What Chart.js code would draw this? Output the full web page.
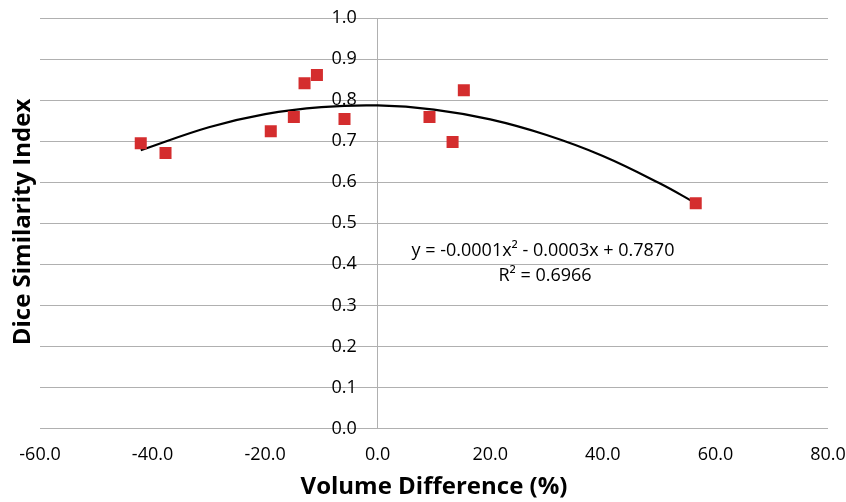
<!DOCTYPE html>
<html>
<head>
<meta charset="utf-8">
<script src="https://cdn.jsdelivr.net/npm/chart.js@4.4.1/dist/chart.umd.min.js"></script>
<style>
  body { margin: 0; background: #fff; }
  #wrap { width: 846px; height: 502px; }
</style>
</head>
<body>
<div id="wrap"><canvas id="myChart" width="846" height="502"></canvas></div>
<script>
// ====== Dice vs volume difference =========

// measured points (volume difference %, dice index)
const volDiff = [-42.1, -37.7, -19.0, -14.9, -13.0, -10.8, -5.9, 9.2, 13.3, 15.3, 56.5];
const diceIdx = [0.695, 0.671, 0.724, 0.759, 0.841, 0.861, 0.754, 0.759, 0.698, 0.824, 0.549];

// trendline
const trendX = [-42.1, -30, -20, -10, 0, 10, 20, 30, 40, 50, 56.5];
const trendY = [0.678, 0.734, 0.766, 0.783, 0.787, 0.777, 0.753, 0.715, 0.664, 0.598, 0.549];

const xTicks = [-60, -40, -20, 0, 20, 40, 60, 80];
const yTicks = [0, 0.1, 0.2, 0.3, 0.4, 0.5, 0.6, 0.7, 0.8, 0.9, 1.0];

const eqText = "y = -0.0001x² - 0.0003x + 0.7870";
const r2Text = "R² = 0.6966";
const yTitle = "Dice Similarity Index";
const xTitle = "Volume Difference (%)";

let points = [];
for (let i = 0; i < volDiff.length; i++) {
  points.push({ x: volDiff[i], y: diceIdx[i] });
}
let trend = [];
for (let i = 0; i < trendX.length; i++) {
  trend.push({ x: trendX[i], y: trendY[i] });
}

// extra texts: y title + equation
const extraText = {
  id: "extraText",
  afterDraw(chart) {
    const ctx = chart.ctx;
    ctx.save();
    ctx.fillStyle = "#000";
    ctx.font = "18px 'Open Sans'";
    ctx.textAlign = "center";
    ctx.textBaseline = "middle";
    ctx.fillText(eqText, 543, 251);
    ctx.fillText(r2Text, 545, 276);
    ctx.translate(23, 222);
    ctx.rotate(-Math.PI / 2);
    ctx.font = "bold 24px 'Open Sans'";
    ctx.fillText(yTitle, 0, 0);
    ctx.restore();
  },
};

const tickFont = { family: "Open Sans", size: 18 };

let ctx = document.getElementById("myChart").getContext("2d");
var graphie = new Chart(ctx, {
  type: "scatter",
  data: {
    datasets: [
      {
        label: "Trend",
        data: trend,
        showLine: true,
        borderColor: "#000",
        borderWidth: 2.2,
        pointRadius: 0,
        tension: 0.4,
        order: 2,
      },
      {
        label: "Dice",
        data: points,
        pointStyle: "rect",
        pointRadius: 8.5,
        pointHoverRadius: 8.5,
        backgroundColor: "#d42d2e",
        borderWidth: 0,
        order: 1,
      },
    ],
  },
  options: {
    responsive: false,
    animation: false,
    layout: { padding: { left: 40, right: 18, top: 18, bottom: 0 } },
    plugins: {
      legend: { display: false },
      tooltip: { enabled: false },
    },
    scales: {
      x: {
        type: "linear",
        min: -60,
        max: 80,
        afterBuildTicks: (s) => { s.ticks = xTicks.map((v) => ({ value: v })); },
        afterFit: (s) => { s.paddingLeft = 0; s.paddingRight = 0; },
        grid: { display: false },
        border: { display: false },
        ticks: {
          color: "#000",
          padding: 7,
          font: tickFont,
          callback: (v) => v.toFixed(1),
        },
        title: {
          display: true,
          text: xTitle,
          color: "#000",
          font: { family: "Open Sans", size: 24, weight: "bold" },
          padding: { top: 1, bottom: 0 },
        },
      },
      y: {
        type: "linear",
        position: { x: 0 },
        min: 0,
        max: 1,
        afterBuildTicks: (s) => { s.ticks = yTicks.map((v) => ({ value: v })); },
        grid: { color: "#b0b0b0", lineWidth: 1, drawTicks: false },
        border: { display: true, color: "#b0b0b0", width: 1 },
        ticks: { display: false },
      },
      // labels only, set a bit left of the y axis line
      yl: {
        type: "linear",
        axis: "y",
        position: { x: -3.7 },
        min: 0,
        max: 1,
        afterBuildTicks: (s) => { s.ticks = yTicks.map((v) => ({ value: v })); },
        grid: { display: false, drawTicks: false },
        border: { display: false },
        ticks: {
          color: "#000",
          font: tickFont,
          callback: (v) => v.toFixed(1),
        },
      },
    },
  },
  plugins: [extraText],
});
</script>
</body>
</html>
